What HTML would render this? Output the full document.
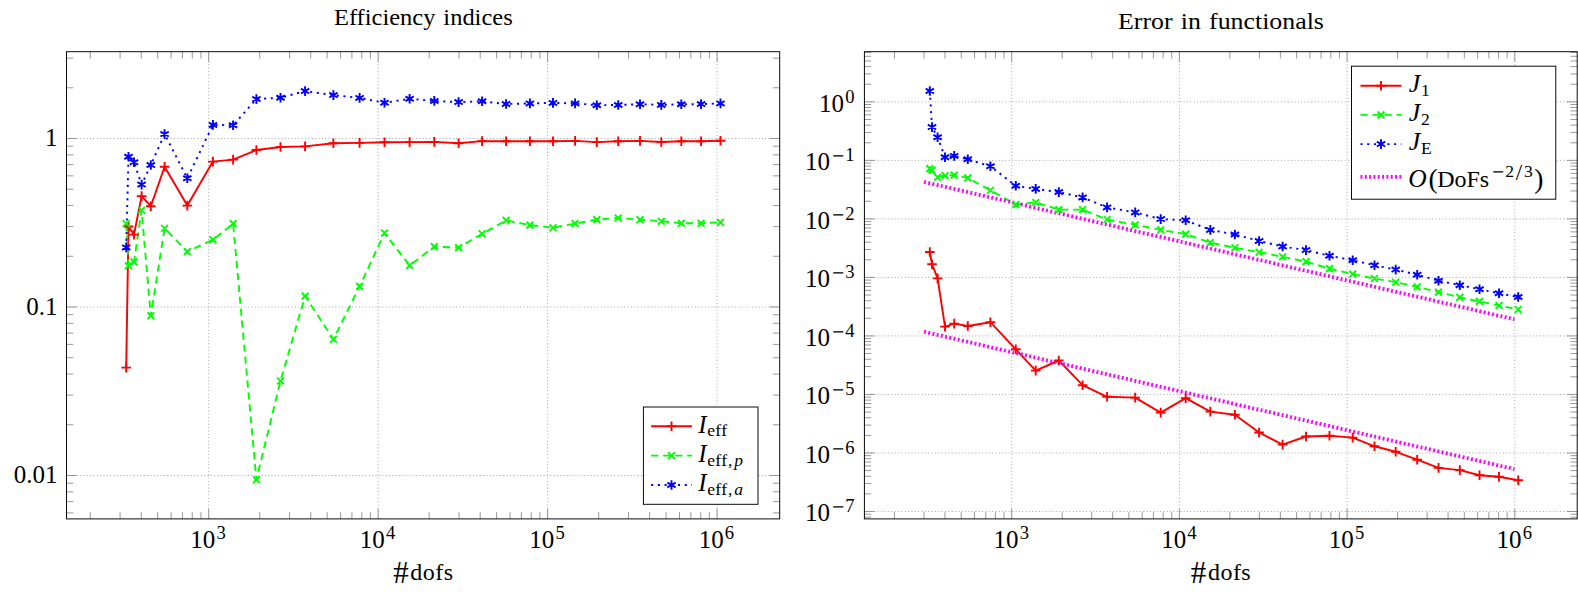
<!DOCTYPE html><html><head><meta charset="utf-8"><title>Efficiency indices and error in functionals</title>
<style>html,body{margin:0;padding:0;background:#fff}svg{display:block}</style></head><body>
<svg width="1578" height="592" viewBox="0 0 1578 592">
<rect width="1578" height="592" fill="#fff"/>
<g id="left">
<path d="M208.7 518.9V51.7M378.17 518.9V51.7M547.64 518.9V51.7M717.11 518.9V51.7M66.5 138.5H779.7M66.5 307H779.7M66.5 475.5H779.7" fill="none" stroke="#8a8a8a" stroke-width="0.8" stroke-dasharray="0.96 2.4"/>
<path d="M90.25 518.9v-6.8M90.25 51.7v6.8M120.09 518.9v-6.8M120.09 51.7v6.8M141.26 518.9v-6.8M141.26 51.7v6.8M157.68 518.9v-6.8M157.68 51.7v6.8M171.1 518.9v-6.8M171.1 51.7v6.8M182.45 518.9v-6.8M182.45 51.7v6.8M192.28 518.9v-6.8M192.28 51.7v6.8M200.95 518.9v-6.8M200.95 51.7v6.8M208.7 518.9v-10.2M208.7 51.7v10.2M259.72 518.9v-6.8M259.72 51.7v6.8M289.56 518.9v-6.8M289.56 51.7v6.8M310.73 518.9v-6.8M310.73 51.7v6.8M327.15 518.9v-6.8M327.15 51.7v6.8M340.57 518.9v-6.8M340.57 51.7v6.8M351.92 518.9v-6.8M351.92 51.7v6.8M361.75 518.9v-6.8M361.75 51.7v6.8M370.42 518.9v-6.8M370.42 51.7v6.8M378.17 518.9v-10.2M378.17 51.7v10.2M429.19 518.9v-6.8M429.19 51.7v6.8M459.03 518.9v-6.8M459.03 51.7v6.8M480.2 518.9v-6.8M480.2 51.7v6.8M496.62 518.9v-6.8M496.62 51.7v6.8M510.04 518.9v-6.8M510.04 51.7v6.8M521.39 518.9v-6.8M521.39 51.7v6.8M531.22 518.9v-6.8M531.22 51.7v6.8M539.89 518.9v-6.8M539.89 51.7v6.8M547.64 518.9v-10.2M547.64 51.7v10.2M598.66 518.9v-6.8M598.66 51.7v6.8M628.5 518.9v-6.8M628.5 51.7v6.8M649.67 518.9v-6.8M649.67 51.7v6.8M666.09 518.9v-6.8M666.09 51.7v6.8M679.51 518.9v-6.8M679.51 51.7v6.8M690.86 518.9v-6.8M690.86 51.7v6.8M700.69 518.9v-6.8M700.69 51.7v6.8M709.36 518.9v-6.8M709.36 51.7v6.8M717.11 518.9v-10.2M717.11 51.7v10.2M66.5 512.88h6.8M779.7 512.88h-6.8M66.5 501.6h6.8M779.7 501.6h-6.8M66.5 491.83h6.8M779.7 491.83h-6.8M66.5 483.21h6.8M779.7 483.21h-6.8M66.5 475.5h10.2M779.7 475.5h-10.2M66.5 424.78h6.8M779.7 424.78h-6.8M66.5 395.11h6.8M779.7 395.11h-6.8M66.5 374.05h6.8M779.7 374.05h-6.8M66.5 357.72h6.8M779.7 357.72h-6.8M66.5 344.38h6.8M779.7 344.38h-6.8M66.5 333.1h6.8M779.7 333.1h-6.8M66.5 323.33h6.8M779.7 323.33h-6.8M66.5 314.71h6.8M779.7 314.71h-6.8M66.5 307h10.2M779.7 307h-10.2M66.5 256.28h6.8M779.7 256.28h-6.8M66.5 226.61h6.8M779.7 226.61h-6.8M66.5 205.55h6.8M779.7 205.55h-6.8M66.5 189.22h6.8M779.7 189.22h-6.8M66.5 175.88h6.8M779.7 175.88h-6.8M66.5 164.6h6.8M779.7 164.6h-6.8M66.5 154.83h6.8M779.7 154.83h-6.8M66.5 146.21h6.8M779.7 146.21h-6.8M66.5 138.5h10.2M779.7 138.5h-10.2M66.5 87.78h6.8M779.7 87.78h-6.8M66.5 58.11h6.8M779.7 58.11h-6.8" fill="none" stroke="#808080" stroke-width="0.8"/>
<rect x="66.5" y="51.7" width="713.2" height="467.2" fill="none" stroke="#000" stroke-width="0.96"/>
<polyline points="126.2,367.6 128.5,226.5 134,234.6 141.6,196.1 150.8,206.2 164.6,166.7 187.3,205.6 212.9,161.6 233.1,159.6 256.4,150 280.5,147 305.1,146.4 333.4,143.3 359.6,142.9 384.5,142.3 409.6,142.1 434.3,141.9 458.6,143.3 482.1,141.1 506.1,141.3 529.9,141.3 553,141.2 575.1,140.9 596.8,142.1 618.2,141.3 640,140.9 661.3,142 681.3,141.3 701.1,141.3 720.5,140.7" fill="none" stroke="#ff0000" stroke-width="1.92" stroke-linejoin="round"/>
<polyline points="126.2,223.5 128.5,265.9 134,261.9 141.6,210.3 150.8,315.8 164.6,228.3 187.3,251.6 212.9,239.8 233.1,223.6 256.4,479.7 280.5,381 305.1,296.1 333.4,339.3 359.6,286.4 384.5,233 409.6,265.5 434.3,246.6 458.6,247.6 482.1,233.8 506.1,220.4 529.9,225.1 553,227.7 575.1,223.6 596.8,219.6 618.2,218 640,219.6 661.3,221.2 681.3,223.2 701.1,223.2 720.5,222.4" fill="none" stroke="#00ff00" stroke-width="1.92" stroke-dasharray="7.2 4.8" stroke-linejoin="round"/>
<polyline points="126.2,247.4 128.5,156.7 134,162.3 141.6,184.6 150.8,165 164.6,134.1 187.3,178.3 212.9,124.9 233.1,125.3 256.4,99.1 280.5,97.7 305.1,91.1 333.4,95.1 359.6,97.9 384.5,102.8 409.6,98.8 434.3,100.9 458.6,102.1 482.1,101.3 506.1,104 529.9,103.4 553,102.9 575.1,103.4 596.8,105.2 618.2,105 640,104.2 661.3,104.9 681.3,104.3 701.1,104.1 720.5,103.4" fill="none" stroke="#0000ff" stroke-width="1.92" stroke-dasharray="2.1 4.62" stroke-linejoin="round"/>
<path d="M121.4 367.6H131M126.2 362.8V372.4M123.7 226.5H133.3M128.5 221.7V231.3M129.2 234.6H138.8M134 229.8V239.4M136.8 196.1H146.4M141.6 191.3V200.9M146 206.2H155.6M150.8 201.4V211M159.8 166.7H169.4M164.6 161.9V171.5M182.5 205.6H192.1M187.3 200.8V210.4M208.1 161.6H217.7M212.9 156.8V166.4M228.3 159.6H237.9M233.1 154.8V164.4M251.6 150H261.2M256.4 145.2V154.8M275.7 147H285.3M280.5 142.2V151.8M300.3 146.4H309.9M305.1 141.6V151.2M328.6 143.3H338.2M333.4 138.5V148.1M354.8 142.9H364.4M359.6 138.1V147.7M379.7 142.3H389.3M384.5 137.5V147.1M404.8 142.1H414.4M409.6 137.3V146.9M429.5 141.9H439.1M434.3 137.1V146.7M453.8 143.3H463.4M458.6 138.5V148.1M477.3 141.1H486.9M482.1 136.3V145.9M501.3 141.3H510.9M506.1 136.5V146.1M525.1 141.3H534.7M529.9 136.5V146.1M548.2 141.2H557.8M553 136.4V146M570.3 140.9H579.9M575.1 136.1V145.7M592 142.1H601.6M596.8 137.3V146.9M613.4 141.3H623M618.2 136.5V146.1M635.2 140.9H644.8M640 136.1V145.7M656.5 142H666.1M661.3 137.2V146.8M676.5 141.3H686.1M681.3 136.5V146.1M696.3 141.3H705.9M701.1 136.5V146.1M715.7 140.7H725.3M720.5 135.9V145.5" fill="none" stroke="#ff0000" stroke-width="1.92"/>
<path d="M122.81 220.11L129.59 226.89M122.81 226.89L129.59 220.11M125.11 262.51L131.89 269.29M125.11 269.29L131.89 262.51M130.61 258.51L137.39 265.29M130.61 265.29L137.39 258.51M138.21 206.91L144.99 213.69M138.21 213.69L144.99 206.91M147.41 312.41L154.19 319.19M147.41 319.19L154.19 312.41M161.21 224.91L167.99 231.69M161.21 231.69L167.99 224.91M183.91 248.21L190.69 254.99M183.91 254.99L190.69 248.21M209.51 236.41L216.29 243.19M209.51 243.19L216.29 236.41M229.71 220.21L236.49 226.99M229.71 226.99L236.49 220.21M253.01 476.31L259.79 483.09M253.01 483.09L259.79 476.31M277.11 377.61L283.89 384.39M277.11 384.39L283.89 377.61M301.71 292.71L308.49 299.49M301.71 299.49L308.49 292.71M330.01 335.91L336.79 342.69M330.01 342.69L336.79 335.91M356.21 283.01L362.99 289.79M356.21 289.79L362.99 283.01M381.11 229.61L387.89 236.39M381.11 236.39L387.89 229.61M406.21 262.11L412.99 268.89M406.21 268.89L412.99 262.11M430.91 243.21L437.69 249.99M430.91 249.99L437.69 243.21M455.21 244.21L461.99 250.99M455.21 250.99L461.99 244.21M478.71 230.41L485.49 237.19M478.71 237.19L485.49 230.41M502.71 217.01L509.49 223.79M502.71 223.79L509.49 217.01M526.51 221.71L533.29 228.49M526.51 228.49L533.29 221.71M549.61 224.31L556.39 231.09M549.61 231.09L556.39 224.31M571.71 220.21L578.49 226.99M571.71 226.99L578.49 220.21M593.41 216.21L600.19 222.99M593.41 222.99L600.19 216.21M614.81 214.61L621.59 221.39M614.81 221.39L621.59 214.61M636.61 216.21L643.39 222.99M636.61 222.99L643.39 216.21M657.91 217.81L664.69 224.59M657.91 224.59L664.69 217.81M677.91 219.81L684.69 226.59M677.91 226.59L684.69 219.81M697.71 219.81L704.49 226.59M697.71 226.59L704.49 219.81M717.11 219.01L723.89 225.79M717.11 225.79L723.89 219.01" fill="none" stroke="#00ff00" stroke-width="1.92"/>
<path d="M126.2 242.6V252.2M122.04 245L130.36 249.8M122.04 249.8L130.36 245M128.5 151.9V161.5M124.34 154.3L132.66 159.1M124.34 159.1L132.66 154.3M134 157.5V167.1M129.84 159.9L138.16 164.7M129.84 164.7L138.16 159.9M141.6 179.8V189.4M137.44 182.2L145.76 187M137.44 187L145.76 182.2M150.8 160.2V169.8M146.64 162.6L154.96 167.4M146.64 167.4L154.96 162.6M164.6 129.3V138.9M160.44 131.7L168.76 136.5M160.44 136.5L168.76 131.7M187.3 173.5V183.1M183.14 175.9L191.46 180.7M183.14 180.7L191.46 175.9M212.9 120.1V129.7M208.74 122.5L217.06 127.3M208.74 127.3L217.06 122.5M233.1 120.5V130.1M228.94 122.9L237.26 127.7M228.94 127.7L237.26 122.9M256.4 94.3V103.9M252.24 96.7L260.56 101.5M252.24 101.5L260.56 96.7M280.5 92.9V102.5M276.34 95.3L284.66 100.1M276.34 100.1L284.66 95.3M305.1 86.3V95.9M300.94 88.7L309.26 93.5M300.94 93.5L309.26 88.7M333.4 90.3V99.9M329.24 92.7L337.56 97.5M329.24 97.5L337.56 92.7M359.6 93.1V102.7M355.44 95.5L363.76 100.3M355.44 100.3L363.76 95.5M384.5 98V107.6M380.34 100.4L388.66 105.2M380.34 105.2L388.66 100.4M409.6 94V103.6M405.44 96.4L413.76 101.2M405.44 101.2L413.76 96.4M434.3 96.1V105.7M430.14 98.5L438.46 103.3M430.14 103.3L438.46 98.5M458.6 97.3V106.9M454.44 99.7L462.76 104.5M454.44 104.5L462.76 99.7M482.1 96.5V106.1M477.94 98.9L486.26 103.7M477.94 103.7L486.26 98.9M506.1 99.2V108.8M501.94 101.6L510.26 106.4M501.94 106.4L510.26 101.6M529.9 98.6V108.2M525.74 101L534.06 105.8M525.74 105.8L534.06 101M553 98.1V107.7M548.84 100.5L557.16 105.3M548.84 105.3L557.16 100.5M575.1 98.6V108.2M570.94 101L579.26 105.8M570.94 105.8L579.26 101M596.8 100.4V110M592.64 102.8L600.96 107.6M592.64 107.6L600.96 102.8M618.2 100.2V109.8M614.04 102.6L622.36 107.4M614.04 107.4L622.36 102.6M640 99.4V109M635.84 101.8L644.16 106.6M635.84 106.6L644.16 101.8M661.3 100.1V109.7M657.14 102.5L665.46 107.3M657.14 107.3L665.46 102.5M681.3 99.5V109.1M677.14 101.9L685.46 106.7M677.14 106.7L685.46 101.9M701.1 99.3V108.9M696.94 101.7L705.26 106.5M696.94 106.5L705.26 101.7M720.5 98.6V108.2M716.34 101L724.66 105.8M716.34 105.8L724.66 101" fill="none" stroke="#0000ff" stroke-width="1.92"/>
<text font-family="Liberation Serif, DejaVu Serif, serif" font-size="25" text-anchor="middle" x="208" y="547.7">10<tspan font-size="18.6" dy="-8.9" dx="1.2">3</tspan></text>
<text font-family="Liberation Serif, DejaVu Serif, serif" font-size="25" text-anchor="middle" x="377.47" y="547.7">10<tspan font-size="18.6" dy="-8.9" dx="1.2">4</tspan></text>
<text font-family="Liberation Serif, DejaVu Serif, serif" font-size="25" text-anchor="middle" x="546.94" y="547.7">10<tspan font-size="18.6" dy="-8.9" dx="1.2">5</tspan></text>
<text font-family="Liberation Serif, DejaVu Serif, serif" font-size="25" text-anchor="middle" x="716.41" y="547.7">10<tspan font-size="18.6" dy="-8.9" dx="1.2">6</tspan></text>
<text font-family="Liberation Serif, DejaVu Serif, serif" font-size="25" text-anchor="end" x="57.6" y="146.1">1</text>
<text font-family="Liberation Serif, DejaVu Serif, serif" font-size="25" text-anchor="end" x="57.6" y="314.6">0.1</text>
<text font-family="Liberation Serif, DejaVu Serif, serif" font-size="25" text-anchor="end" x="57.6" y="483.1">0.01</text>
<text font-family="Liberation Serif, DejaVu Serif, serif" font-size="24" text-anchor="middle" transform="translate(423.3 24.9) scale(1.02 1)" word-spacing="1.8" id="t1">Efficiency indices</text>
<text font-family="Liberation Serif, DejaVu Serif, serif" font-size="24" text-anchor="middle" x="423.4" y="579.7" id="xl1"><tspan font-size="31" dy="3.6">#</tspan><tspan dy="-3.6" dx="1.6" letter-spacing="0.5">dofs</tspan></text>
<rect x="643.4" y="407" width="114.6" height="97.3" fill="#fff" stroke="#000" stroke-width="0.96"/>
<path d="M651.1 426.2H691.9" stroke="#ff0000" stroke-width="1.92"/>
<path d="M651.1 455.6H691.9" stroke="#00ff00" stroke-width="1.92" stroke-dasharray="7.2 4.8"/>
<path d="M651.1 485H691.9" stroke="#0000ff" stroke-width="1.92" stroke-dasharray="2.1 4.62"/>
<path d="M666.7 426.2H676.3M671.5 421.4V431" fill="none" stroke="#ff0000" stroke-width="1.92"/>
<path d="M668.11 452.21L674.89 458.99M668.11 458.99L674.89 452.21" fill="none" stroke="#00ff00" stroke-width="1.92"/>
<path d="M671.5 480.2V489.8M667.34 482.6L675.66 487.4M667.34 487.4L675.66 482.6" fill="none" stroke="#0000ff" stroke-width="1.92"/>
<text font-family="Liberation Serif, DejaVu Serif, serif" font-size="24" x="698.3" y="432.6"><tspan font-style="italic" font-size="25">I</tspan><tspan font-size="17.5" dy="3.6" dx="0.6" letter-spacing="0.35">eff</tspan></text>
<text font-family="Liberation Serif, DejaVu Serif, serif" font-size="24" x="698.3" y="461.9"><tspan font-style="italic" font-size="25">I</tspan><tspan font-size="17.5" dy="3.6" dx="0.6" letter-spacing="0.35">eff<tspan dx="0.5">,</tspan><tspan font-style="italic" dx="1.5">p</tspan></tspan></text>
<text font-family="Liberation Serif, DejaVu Serif, serif" font-size="24" x="698.3" y="491.3"><tspan font-style="italic" font-size="25">I</tspan><tspan font-size="17.5" dy="3.6" dx="0.6" letter-spacing="0.35">eff<tspan dx="0.5">,</tspan><tspan font-style="italic" dx="1.5">a</tspan></tspan></text>
</g>
<g id="right">
<path d="M1011.7 518.9V51.7M1179.4 518.9V51.7M1347.1 518.9V51.7M1514.8 518.9V51.7M864.4 101.85H1577.2M864.4 160.37H1577.2M864.4 218.89H1577.2M864.4 277.41H1577.2M864.4 335.93H1577.2M864.4 394.45H1577.2M864.4 452.97H1577.2M864.4 511.49H1577.2" fill="none" stroke="#8a8a8a" stroke-width="0.8" stroke-dasharray="0.96 2.4"/>
<path d="M894.48 518.9v-6.8M894.48 51.7v6.8M924.01 518.9v-6.8M924.01 51.7v6.8M944.97 518.9v-6.8M944.97 51.7v6.8M961.22 518.9v-6.8M961.22 51.7v6.8M974.5 518.9v-6.8M974.5 51.7v6.8M985.72 518.9v-6.8M985.72 51.7v6.8M995.45 518.9v-6.8M995.45 51.7v6.8M1004.03 518.9v-6.8M1004.03 51.7v6.8M1011.7 518.9v-10.2M1011.7 51.7v10.2M1062.18 518.9v-6.8M1062.18 51.7v6.8M1091.71 518.9v-6.8M1091.71 51.7v6.8M1112.67 518.9v-6.8M1112.67 51.7v6.8M1128.92 518.9v-6.8M1128.92 51.7v6.8M1142.2 518.9v-6.8M1142.2 51.7v6.8M1153.42 518.9v-6.8M1153.42 51.7v6.8M1163.15 518.9v-6.8M1163.15 51.7v6.8M1171.73 518.9v-6.8M1171.73 51.7v6.8M1179.4 518.9v-10.2M1179.4 51.7v10.2M1229.88 518.9v-6.8M1229.88 51.7v6.8M1259.41 518.9v-6.8M1259.41 51.7v6.8M1280.37 518.9v-6.8M1280.37 51.7v6.8M1296.62 518.9v-6.8M1296.62 51.7v6.8M1309.9 518.9v-6.8M1309.9 51.7v6.8M1321.12 518.9v-6.8M1321.12 51.7v6.8M1330.85 518.9v-6.8M1330.85 51.7v6.8M1339.43 518.9v-6.8M1339.43 51.7v6.8M1347.1 518.9v-10.2M1347.1 51.7v10.2M1397.58 518.9v-6.8M1397.58 51.7v6.8M1427.11 518.9v-6.8M1427.11 51.7v6.8M1448.07 518.9v-6.8M1448.07 51.7v6.8M1464.32 518.9v-6.8M1464.32 51.7v6.8M1477.6 518.9v-6.8M1477.6 51.7v6.8M1488.82 518.9v-6.8M1488.82 51.7v6.8M1498.55 518.9v-6.8M1498.55 51.7v6.8M1507.13 518.9v-6.8M1507.13 51.7v6.8M1514.8 518.9v-10.2M1514.8 51.7v10.2M864.4 517.16h6.8M1577.2 517.16h-6.8M864.4 514.17h6.8M1577.2 514.17h-6.8M864.4 511.49h10.2M1577.2 511.49h-10.2M864.4 493.87h6.8M1577.2 493.87h-6.8M864.4 483.57h6.8M1577.2 483.57h-6.8M864.4 476.26h6.8M1577.2 476.26h-6.8M864.4 470.59h6.8M1577.2 470.59h-6.8M864.4 465.95h6.8M1577.2 465.95h-6.8M864.4 462.03h6.8M1577.2 462.03h-6.8M864.4 458.64h6.8M1577.2 458.64h-6.8M864.4 455.65h6.8M1577.2 455.65h-6.8M864.4 452.97h10.2M1577.2 452.97h-10.2M864.4 435.35h6.8M1577.2 435.35h-6.8M864.4 425.05h6.8M1577.2 425.05h-6.8M864.4 417.74h6.8M1577.2 417.74h-6.8M864.4 412.07h6.8M1577.2 412.07h-6.8M864.4 407.43h6.8M1577.2 407.43h-6.8M864.4 403.51h6.8M1577.2 403.51h-6.8M864.4 400.12h6.8M1577.2 400.12h-6.8M864.4 397.13h6.8M1577.2 397.13h-6.8M864.4 394.45h10.2M1577.2 394.45h-10.2M864.4 376.83h6.8M1577.2 376.83h-6.8M864.4 366.53h6.8M1577.2 366.53h-6.8M864.4 359.22h6.8M1577.2 359.22h-6.8M864.4 353.55h6.8M1577.2 353.55h-6.8M864.4 348.91h6.8M1577.2 348.91h-6.8M864.4 344.99h6.8M1577.2 344.99h-6.8M864.4 341.6h6.8M1577.2 341.6h-6.8M864.4 338.61h6.8M1577.2 338.61h-6.8M864.4 335.93h10.2M1577.2 335.93h-10.2M864.4 318.31h6.8M1577.2 318.31h-6.8M864.4 308.01h6.8M1577.2 308.01h-6.8M864.4 300.7h6.8M1577.2 300.7h-6.8M864.4 295.03h6.8M1577.2 295.03h-6.8M864.4 290.39h6.8M1577.2 290.39h-6.8M864.4 286.47h6.8M1577.2 286.47h-6.8M864.4 283.08h6.8M1577.2 283.08h-6.8M864.4 280.09h6.8M1577.2 280.09h-6.8M864.4 277.41h10.2M1577.2 277.41h-10.2M864.4 259.79h6.8M1577.2 259.79h-6.8M864.4 249.49h6.8M1577.2 249.49h-6.8M864.4 242.18h6.8M1577.2 242.18h-6.8M864.4 236.51h6.8M1577.2 236.51h-6.8M864.4 231.87h6.8M1577.2 231.87h-6.8M864.4 227.95h6.8M1577.2 227.95h-6.8M864.4 224.56h6.8M1577.2 224.56h-6.8M864.4 221.57h6.8M1577.2 221.57h-6.8M864.4 218.89h10.2M1577.2 218.89h-10.2M864.4 201.27h6.8M1577.2 201.27h-6.8M864.4 190.97h6.8M1577.2 190.97h-6.8M864.4 183.66h6.8M1577.2 183.66h-6.8M864.4 177.99h6.8M1577.2 177.99h-6.8M864.4 173.35h6.8M1577.2 173.35h-6.8M864.4 169.43h6.8M1577.2 169.43h-6.8M864.4 166.04h6.8M1577.2 166.04h-6.8M864.4 163.05h6.8M1577.2 163.05h-6.8M864.4 160.37h10.2M1577.2 160.37h-10.2M864.4 142.75h6.8M1577.2 142.75h-6.8M864.4 132.45h6.8M1577.2 132.45h-6.8M864.4 125.14h6.8M1577.2 125.14h-6.8M864.4 119.47h6.8M1577.2 119.47h-6.8M864.4 114.83h6.8M1577.2 114.83h-6.8M864.4 110.91h6.8M1577.2 110.91h-6.8M864.4 107.52h6.8M1577.2 107.52h-6.8M864.4 104.53h6.8M1577.2 104.53h-6.8M864.4 101.85h10.2M1577.2 101.85h-10.2M864.4 84.23h6.8M1577.2 84.23h-6.8M864.4 73.93h6.8M1577.2 73.93h-6.8M864.4 66.62h6.8M1577.2 66.62h-6.8M864.4 60.95h6.8M1577.2 60.95h-6.8M864.4 56.31h6.8M1577.2 56.31h-6.8M864.4 52.39h6.8M1577.2 52.39h-6.8" fill="none" stroke="#808080" stroke-width="0.8"/>
<rect x="864.4" y="51.7" width="712.8" height="467.2" fill="none" stroke="#000" stroke-width="0.96"/>
<polyline points="929.8,252 932,264.2 937.6,278.4 945,326.6 954.2,323.6 967.8,326 990.4,322.2 1015.8,349.3 1035.7,370.6 1058.8,360.5 1082.6,385.2 1107.1,396.8 1135.2,397.6 1160.7,412.6 1185.7,398.2 1210.3,411.6 1234.9,414.8 1259.1,432.5 1282.6,444.6 1306,436.5 1329.5,435.7 1352.7,437.6 1374.5,446.3 1395.7,451.8 1417.2,459.7 1438.5,467.9 1459.8,470.1 1479.5,475.2 1499,476.8 1518.2,480.3" fill="none" stroke="#ff0000" stroke-width="1.92" stroke-linejoin="round"/>
<polyline points="929.8,168.6 932,170.1 937.6,177.3 945,175.5 954.2,175.1 967.8,177.9 990.4,190.3 1015.8,204.6 1035.7,202.5 1058.8,209.6 1082.6,209.6 1107.1,219.5 1135.2,224.8 1160.7,229.9 1185.7,234.1 1210.3,242.6 1234.9,247.7 1259.1,252.2 1282.6,256.8 1306,261.6 1329.5,268.6 1352.7,274.1 1374.5,278.5 1395.7,282.2 1417.2,286.8 1438.5,292.1 1459.8,297.4 1479.5,301.4 1499,305.5 1518.2,309.5" fill="none" stroke="#00ff00" stroke-width="1.92" stroke-dasharray="7.2 4.8" stroke-linejoin="round"/>
<polyline points="929.8,91 932,127.1 937.6,137.2 945,157.3 954.2,155.9 967.8,159.3 990.4,166.3 1015.8,185.8 1035.7,188.9 1058.8,192.1 1082.6,197.4 1107.1,207.4 1135.2,212.4 1160.7,219.1 1185.7,220.3 1210.3,229.9 1234.9,234.5 1259.1,241 1282.6,246.5 1306,250.1 1329.5,255.8 1352.7,260.3 1374.5,265.3 1395.7,269.6 1417.2,274.7 1438.5,280.7 1459.8,285.2 1479.5,289.2 1499,293.3 1518.2,297" fill="none" stroke="#0000ff" stroke-width="1.92" stroke-dasharray="2.1 4.62" stroke-linejoin="round"/>
<path d="M924 181.9L1514.4 319.3M924 331.7L1514.4 469.1" stroke="#ff00ff" stroke-width="3.84" stroke-dasharray="1.92 2.4" fill="none"/>
<path d="M925 252H934.6M929.8 247.2V256.8M927.2 264.2H936.8M932 259.4V269M932.8 278.4H942.4M937.6 273.6V283.2M940.2 326.6H949.8M945 321.8V331.4M949.4 323.6H959M954.2 318.8V328.4M963 326H972.6M967.8 321.2V330.8M985.6 322.2H995.2M990.4 317.4V327M1011 349.3H1020.6M1015.8 344.5V354.1M1030.9 370.6H1040.5M1035.7 365.8V375.4M1054 360.5H1063.6M1058.8 355.7V365.3M1077.8 385.2H1087.4M1082.6 380.4V390M1102.3 396.8H1111.9M1107.1 392V401.6M1130.4 397.6H1140M1135.2 392.8V402.4M1155.9 412.6H1165.5M1160.7 407.8V417.4M1180.9 398.2H1190.5M1185.7 393.4V403M1205.5 411.6H1215.1M1210.3 406.8V416.4M1230.1 414.8H1239.7M1234.9 410V419.6M1254.3 432.5H1263.9M1259.1 427.7V437.3M1277.8 444.6H1287.4M1282.6 439.8V449.4M1301.2 436.5H1310.8M1306 431.7V441.3M1324.7 435.7H1334.3M1329.5 430.9V440.5M1347.9 437.6H1357.5M1352.7 432.8V442.4M1369.7 446.3H1379.3M1374.5 441.5V451.1M1390.9 451.8H1400.5M1395.7 447V456.6M1412.4 459.7H1422M1417.2 454.9V464.5M1433.7 467.9H1443.3M1438.5 463.1V472.7M1455 470.1H1464.6M1459.8 465.3V474.9M1474.7 475.2H1484.3M1479.5 470.4V480M1494.2 476.8H1503.8M1499 472V481.6M1513.4 480.3H1523M1518.2 475.5V485.1" fill="none" stroke="#ff0000" stroke-width="1.92"/>
<path d="M926.41 165.21L933.19 171.99M926.41 171.99L933.19 165.21M928.61 166.71L935.39 173.49M928.61 173.49L935.39 166.71M934.21 173.91L940.99 180.69M934.21 180.69L940.99 173.91M941.61 172.11L948.39 178.89M941.61 178.89L948.39 172.11M950.81 171.71L957.59 178.49M950.81 178.49L957.59 171.71M964.41 174.51L971.19 181.29M964.41 181.29L971.19 174.51M987.01 186.91L993.79 193.69M987.01 193.69L993.79 186.91M1012.41 201.21L1019.19 207.99M1012.41 207.99L1019.19 201.21M1032.31 199.11L1039.09 205.89M1032.31 205.89L1039.09 199.11M1055.41 206.21L1062.19 212.99M1055.41 212.99L1062.19 206.21M1079.21 206.21L1085.99 212.99M1079.21 212.99L1085.99 206.21M1103.71 216.11L1110.49 222.89M1103.71 222.89L1110.49 216.11M1131.81 221.41L1138.59 228.19M1131.81 228.19L1138.59 221.41M1157.31 226.51L1164.09 233.29M1157.31 233.29L1164.09 226.51M1182.31 230.71L1189.09 237.49M1182.31 237.49L1189.09 230.71M1206.91 239.21L1213.69 245.99M1206.91 245.99L1213.69 239.21M1231.51 244.31L1238.29 251.09M1231.51 251.09L1238.29 244.31M1255.71 248.81L1262.49 255.59M1255.71 255.59L1262.49 248.81M1279.21 253.41L1285.99 260.19M1279.21 260.19L1285.99 253.41M1302.61 258.21L1309.39 264.99M1302.61 264.99L1309.39 258.21M1326.11 265.21L1332.89 271.99M1326.11 271.99L1332.89 265.21M1349.31 270.71L1356.09 277.49M1349.31 277.49L1356.09 270.71M1371.11 275.11L1377.89 281.89M1371.11 281.89L1377.89 275.11M1392.31 278.81L1399.09 285.59M1392.31 285.59L1399.09 278.81M1413.81 283.41L1420.59 290.19M1413.81 290.19L1420.59 283.41M1435.11 288.71L1441.89 295.49M1435.11 295.49L1441.89 288.71M1456.41 294.01L1463.19 300.79M1456.41 300.79L1463.19 294.01M1476.11 298.01L1482.89 304.79M1476.11 304.79L1482.89 298.01M1495.61 302.11L1502.39 308.89M1495.61 308.89L1502.39 302.11M1514.81 306.11L1521.59 312.89M1514.81 312.89L1521.59 306.11" fill="none" stroke="#00ff00" stroke-width="1.92"/>
<path d="M929.8 86.2V95.8M925.64 88.6L933.96 93.4M925.64 93.4L933.96 88.6M932 122.3V131.9M927.84 124.7L936.16 129.5M927.84 129.5L936.16 124.7M937.6 132.4V142M933.44 134.8L941.76 139.6M933.44 139.6L941.76 134.8M945 152.5V162.1M940.84 154.9L949.16 159.7M940.84 159.7L949.16 154.9M954.2 151.1V160.7M950.04 153.5L958.36 158.3M950.04 158.3L958.36 153.5M967.8 154.5V164.1M963.64 156.9L971.96 161.7M963.64 161.7L971.96 156.9M990.4 161.5V171.1M986.24 163.9L994.56 168.7M986.24 168.7L994.56 163.9M1015.8 181V190.6M1011.64 183.4L1019.96 188.2M1011.64 188.2L1019.96 183.4M1035.7 184.1V193.7M1031.54 186.5L1039.86 191.3M1031.54 191.3L1039.86 186.5M1058.8 187.3V196.9M1054.64 189.7L1062.96 194.5M1054.64 194.5L1062.96 189.7M1082.6 192.6V202.2M1078.44 195L1086.76 199.8M1078.44 199.8L1086.76 195M1107.1 202.6V212.2M1102.94 205L1111.26 209.8M1102.94 209.8L1111.26 205M1135.2 207.6V217.2M1131.04 210L1139.36 214.8M1131.04 214.8L1139.36 210M1160.7 214.3V223.9M1156.54 216.7L1164.86 221.5M1156.54 221.5L1164.86 216.7M1185.7 215.5V225.1M1181.54 217.9L1189.86 222.7M1181.54 222.7L1189.86 217.9M1210.3 225.1V234.7M1206.14 227.5L1214.46 232.3M1206.14 232.3L1214.46 227.5M1234.9 229.7V239.3M1230.74 232.1L1239.06 236.9M1230.74 236.9L1239.06 232.1M1259.1 236.2V245.8M1254.94 238.6L1263.26 243.4M1254.94 243.4L1263.26 238.6M1282.6 241.7V251.3M1278.44 244.1L1286.76 248.9M1278.44 248.9L1286.76 244.1M1306 245.3V254.9M1301.84 247.7L1310.16 252.5M1301.84 252.5L1310.16 247.7M1329.5 251V260.6M1325.34 253.4L1333.66 258.2M1325.34 258.2L1333.66 253.4M1352.7 255.5V265.1M1348.54 257.9L1356.86 262.7M1348.54 262.7L1356.86 257.9M1374.5 260.5V270.1M1370.34 262.9L1378.66 267.7M1370.34 267.7L1378.66 262.9M1395.7 264.8V274.4M1391.54 267.2L1399.86 272M1391.54 272L1399.86 267.2M1417.2 269.9V279.5M1413.04 272.3L1421.36 277.1M1413.04 277.1L1421.36 272.3M1438.5 275.9V285.5M1434.34 278.3L1442.66 283.1M1434.34 283.1L1442.66 278.3M1459.8 280.4V290M1455.64 282.8L1463.96 287.6M1455.64 287.6L1463.96 282.8M1479.5 284.4V294M1475.34 286.8L1483.66 291.6M1475.34 291.6L1483.66 286.8M1499 288.5V298.1M1494.84 290.9L1503.16 295.7M1494.84 295.7L1503.16 290.9M1518.2 292.2V301.8M1514.04 294.6L1522.36 299.4M1514.04 299.4L1522.36 294.6" fill="none" stroke="#0000ff" stroke-width="1.92"/>
<text font-family="Liberation Serif, DejaVu Serif, serif" font-size="25" text-anchor="middle" x="1011.2" y="547.6">10<tspan font-size="18.6" dy="-8.9" dx="1.2">3</tspan></text>
<text font-family="Liberation Serif, DejaVu Serif, serif" font-size="25" text-anchor="middle" x="1178.9" y="547.6">10<tspan font-size="18.6" dy="-8.9" dx="1.2">4</tspan></text>
<text font-family="Liberation Serif, DejaVu Serif, serif" font-size="25" text-anchor="middle" x="1346.6" y="547.6">10<tspan font-size="18.6" dy="-8.9" dx="1.2">5</tspan></text>
<text font-family="Liberation Serif, DejaVu Serif, serif" font-size="25" text-anchor="middle" x="1514.3" y="547.6">10<tspan font-size="18.6" dy="-8.9" dx="1.2">6</tspan></text>
<text font-family="Liberation Serif, DejaVu Serif, serif" font-size="25" text-anchor="end" x="854.6" y="111.55">10<tspan font-size="18.6" dy="-8.9" dx="1.2">0</tspan></text>
<text font-family="Liberation Serif, DejaVu Serif, serif" font-size="25" text-anchor="end" x="854.6" y="170.07">10<tspan font-size="18.6" dy="-8.9" dx="1.2"><tspan font-family="DejaVu Serif, serif" font-size="16">−</tspan><tspan dx="0.6">1</tspan></tspan></text>
<text font-family="Liberation Serif, DejaVu Serif, serif" font-size="25" text-anchor="end" x="854.6" y="228.59">10<tspan font-size="18.6" dy="-8.9" dx="1.2"><tspan font-family="DejaVu Serif, serif" font-size="16">−</tspan><tspan dx="0.6">2</tspan></tspan></text>
<text font-family="Liberation Serif, DejaVu Serif, serif" font-size="25" text-anchor="end" x="854.6" y="287.11">10<tspan font-size="18.6" dy="-8.9" dx="1.2"><tspan font-family="DejaVu Serif, serif" font-size="16">−</tspan><tspan dx="0.6">3</tspan></tspan></text>
<text font-family="Liberation Serif, DejaVu Serif, serif" font-size="25" text-anchor="end" x="854.6" y="345.63">10<tspan font-size="18.6" dy="-8.9" dx="1.2"><tspan font-family="DejaVu Serif, serif" font-size="16">−</tspan><tspan dx="0.6">4</tspan></tspan></text>
<text font-family="Liberation Serif, DejaVu Serif, serif" font-size="25" text-anchor="end" x="854.6" y="404.15">10<tspan font-size="18.6" dy="-8.9" dx="1.2"><tspan font-family="DejaVu Serif, serif" font-size="16">−</tspan><tspan dx="0.6">5</tspan></tspan></text>
<text font-family="Liberation Serif, DejaVu Serif, serif" font-size="25" text-anchor="end" x="854.6" y="462.67">10<tspan font-size="18.6" dy="-8.9" dx="1.2"><tspan font-family="DejaVu Serif, serif" font-size="16">−</tspan><tspan dx="0.6">6</tspan></tspan></text>
<text font-family="Liberation Serif, DejaVu Serif, serif" font-size="25" text-anchor="end" x="854.6" y="521.19">10<tspan font-size="18.6" dy="-8.9" dx="1.2"><tspan font-family="DejaVu Serif, serif" font-size="16">−</tspan><tspan dx="0.6">7</tspan></tspan></text>
<text font-family="Liberation Serif, DejaVu Serif, serif" font-size="24" text-anchor="middle" transform="translate(1221 28.9) scale(1.077 1)" word-spacing="1.6" id="t2">Error in functionals</text>
<text font-family="Liberation Serif, DejaVu Serif, serif" font-size="24" text-anchor="middle" x="1221" y="579.7" id="xl2"><tspan font-size="31" dy="3.6">#</tspan><tspan dy="-3.6" dx="1.6" letter-spacing="0.5">dofs</tspan></text>
<rect x="1351.5" y="66.2" width="204.3" height="133" fill="#fff" stroke="#000" stroke-width="0.96"/>
<path d="M1360.5 85.7H1401.4" stroke="#ff0000" stroke-width="1.92"/>
<path d="M1360.5 114.9H1401.4" stroke="#00ff00" stroke-width="1.92" stroke-dasharray="7.2 4.8"/>
<path d="M1360.5 144.1H1401.4" stroke="#0000ff" stroke-width="1.92" stroke-dasharray="2.1 4.62"/>
<path d="M1360.5 176.9H1401.4" stroke="#ff00ff" stroke-width="3.84" stroke-dasharray="1.92 2.4"/>
<path d="M1376.2 85.7H1385.8M1381 80.9V90.5" fill="none" stroke="#ff0000" stroke-width="1.92"/>
<path d="M1377.61 111.51L1384.39 118.29M1377.61 118.29L1384.39 111.51" fill="none" stroke="#00ff00" stroke-width="1.92"/>
<path d="M1381 139.3V148.9M1376.84 141.7L1385.16 146.5M1376.84 146.5L1385.16 141.7" fill="none" stroke="#0000ff" stroke-width="1.92"/>
<text font-family="Liberation Serif, DejaVu Serif, serif" font-size="24" x="1408.8" y="91.8"><tspan font-style="italic" font-size="26">J</tspan><tspan font-size="17.5" dy="3.9" dx="0.6">1</tspan></text>
<text font-family="Liberation Serif, DejaVu Serif, serif" font-size="24" x="1408.8" y="121"><tspan font-style="italic" font-size="26">J</tspan><tspan font-size="17.5" dy="3.9" dx="0.6">2</tspan></text>
<text font-family="Liberation Serif, DejaVu Serif, serif" font-size="24" x="1408.8" y="150.3"><tspan font-style="italic" font-size="26">J</tspan><tspan font-size="17.5" dy="3.9" dx="0.6">E</tspan></text>
<text font-family="Liberation Serif, DejaVu Serif, serif" font-size="24" y="186.9"><tspan x="1408.2" font-style="italic" font-size="25.5">O</tspan><tspan x="1428.6" font-size="27.5" dy="0.6">(</tspan><tspan x="1437.2" dy="-0.6">DoFs</tspan><tspan x="1491.2" dy="-9.9" font-size="16" font-family="DejaVu Serif, serif">−</tspan><tspan font-size="17.6" dx="0.6">2</tspan><tspan font-size="23" dx="1.8" dy="3.2">/</tspan><tspan font-size="17.6" dx="1.8" dy="-3.2">3</tspan><tspan x="1534.2" font-size="27.5" dy="10.5">)</tspan></text>
</g>
</svg></body></html>
